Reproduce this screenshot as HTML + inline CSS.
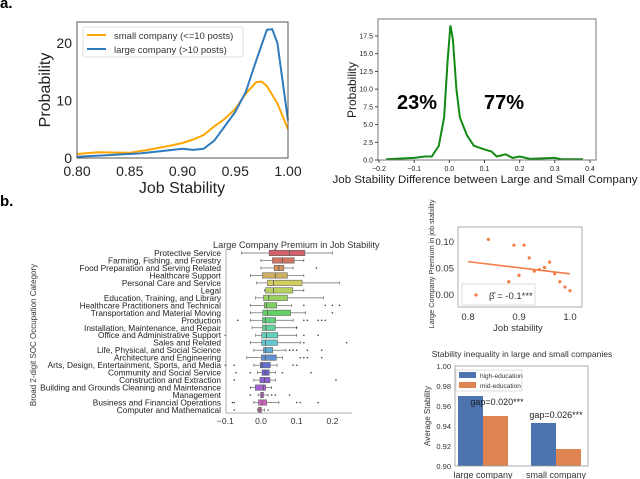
<!DOCTYPE html>
<html><head><meta charset="utf-8"><style>
body{margin:0;background:#fff;}
svg{display:block;font-family:"Liberation Sans",sans-serif;}
</style></head><body>
<svg id="fig" width="640" height="479" viewBox="0 0 640 479">
<text x="0" y="8" font-size="15" font-weight="bold">a.</text>
<text x="0" y="206" font-size="15" font-weight="bold">b.</text>
<g id="p1"></g>
<g id="p2"></g>
<g id="p3"></g>
<g id="p4"></g>
<g id="p5"></g>
</svg>
<script>
// ---- data ----
const smallX=[0.80,0.82,0.85,0.87,0.89,0.90,0.91,0.92,0.93,0.94,0.95,0.96,0.97,0.975,0.98,0.99,1.0];
const smallY=[0.7,1.0,0.9,1.5,2.2,2.6,3.2,4.0,5.5,6.8,8.5,11.2,13.2,13.3,12.5,9.5,5];
const largeX=[0.80,0.83,0.86,0.88,0.90,0.91,0.92,0.93,0.94,0.95,0.96,0.97,0.98,0.985,0.99,1.0];
const largeY=[0.2,0.5,0.8,1.2,1.6,1.4,1.6,3.0,5.5,8.0,11.5,17,22.3,22.4,20,6.5];
const p1Ticks=["0.80","0.85","0.90","0.95","1.00"];
const p1YTicks=["0","10","20"];
const diffX=[-0.18,-0.1,-0.07,-0.05,-0.03,-0.015,-0.005,0.003,0.01,0.02,0.03,0.05,0.07,0.1,0.12,0.135,0.16,0.18,0.2,0.23,0.3,0.32,0.38];
const diffY=[0.1,0.3,0.5,0.5,2,6,14,19,17,10,6,3.5,2,1.5,1.2,0.5,0.8,0.3,0.5,0.15,0.3,0.1,0.1];
const p2XTicks=["-0.2","-0.1","0.0","0.1","0.2","0.3","0.4"];
const p2YTicks=["0.0","2.5","5.0","7.5","10.0","12.5","15.0","17.5"];
const cats=["Protective Service","Farming, Fishing, and Forestry","Food Preparation and Serving Related","Healthcare Support","Personal Care and Service","Legal","Education, Training, and Library","Healthcare Practitioners and Technical","Transportation and Material Moving","Production","Installation, Maintenance, and Repair","Office and Administrative Support","Sales and Related","Life, Physical, and Social Science","Architecture and Engineering","Arts, Design, Entertainment, Sports, and Media","Community and Social Service","Construction and Extraction","Building and Grounds Cleaning and Maintenance","Management","Business and Financial Operations","Computer and Mathematical"];
const q1=[0.023,0.032,0.037,0.004,0.018,0.013,0.007,0.009,0.005,0.004,0.004,0.002,0.002,0.007,0.001,-0.002,0.003,-0.003,-0.016,-0.001,-0.007,-0.007];
const med=[0.08,0.06,0.05,0.04,0.035,0.035,0.022,0.016,0.018,0.012,0.014,0.015,0.013,0.013,0.012,0.003,0.012,0.01,0.007,0.003,0.003,-0.003];
const q3=[0.123,0.093,0.064,0.074,0.115,0.089,0.074,0.044,0.083,0.041,0.04,0.047,0.046,0.033,0.043,0.026,0.023,0.025,0.013,0.007,0.016,0.001];
const wlo=[-0.055,0,0,-0.03,-0.012,0.01,-0.015,-0.03,-0.03,-0.03,-0.025,-0.015,-0.03,-0.02,-0.04,-0.02,-0.01,-0.02,-0.03,-0.008,-0.02,-0.01];
const whi=[0.2,0.12,0.09,0.12,0.22,0.12,0.175,0.085,0.125,0.09,0.1,0.1,0.11,0.07,0.06,0.045,0.04,0.04,0.03,0.02,0.05,0.01];
const outl=[[],[],[0.155],[],[],[],[],[0.12,0.18,0.2,0.22],[0.2],[-0.065,0.12,0.13,0.16,0.17,0.18],[0.1],[-0.1,0.12,0.16],[0.12,0.24],[0.08,0.09,0.1,0.13,0.17],[0.11,0.12,0.13,0.17],[-0.1,-0.075,0.09,0.1],[-0.07,-0.03,0.06,0.14],[-0.075,0.21],[],[-0.03,0.03,0.04,0.08],[-0.08,-0.075,0.1,0.11,0.16],[-0.075,0.02]];
const p3Ticks=["-0.1","0.0","0.1","0.2"];
const scX=[0.84,0.89,0.91,0.92,0.88,0.90,0.93,0.94,0.95,0.96,0.97,0.98,0.99,1.0];
const scY=[0.105,0.094,0.094,0.07,0.025,0.037,0.045,0.048,0.052,0.062,0.04,0.025,0.015,0.008];
const fitX=[0.8,1.0];
const fitY=[0.063,0.04];
const p4XTicks=["0.8","0.9","1.0"];
const p4YTicks=["0.00","0.05","0.10"];
const barGroups=["large company","small company"];
const highEdu=[0.970,0.943];
const midEdu=[0.950,0.917];
const gapLabels=["gap=0.020***","gap=0.026***"];
const p5YTicks=["0.90","0.92","0.94","0.96","0.98","1.00"];

const NS="http://www.w3.org/2000/svg";
function mk(p,tag,a,txt){const e=document.createElementNS(NS,tag);for(const k in a)e.setAttribute(k,a[k]);if(txt!==undefined)e.textContent=txt;p.appendChild(e);return e;}
function lin(d0,d1,r0,r1){return v=>r0+(v-d0)/(d1-d0)*(r1-r0);}
function pathOf(xs,ys,sx,sy){return xs.map((x,i)=>(i?'L':'M')+sx(x).toFixed(1)+' '+sy(ys[i]).toFixed(1)).join(' ');}

// ---- panel 1 ----
(function(){
const g=document.getElementById('p1');
const sx=lin(0.8,1.0,77,288), sy=lin(0,23.65,158,22);
let e;
e=mk(g,'path',{d:pathOf(smallX,smallY,sx,sy),fill:'none',stroke:'#ffa500','stroke-width':2});

e=mk(g,'path',{d:pathOf(largeX,largeY,sx,sy),fill:'none',stroke:'#2f7bbd','stroke-width':2});

e=mk(g,'rect',{x:77,y:22,width:211,height:136,fill:'none',stroke:'#555','stroke-width':1});

p1Ticks.forEach(t=>{e=mk(g,'text',{x:sx(+t),y:176,'font-size':14,'text-anchor':'middle',fill:'#222'},t);
});
p1YTicks.forEach(t=>{e=mk(g,'text',{x:72,y:sy(+t)+5,'font-size':14,'text-anchor':'end',fill:'#222'},t);
});
e=mk(g,'text',{x:182,y:193,'font-size':16,'text-anchor':'middle',fill:'#222'},'Job Stability');

e=mk(g,'text',{x:0,y:0,'font-size':16,'text-anchor':'middle',fill:'#222',transform:'translate(50,90) rotate(-90)'},'Probability');

e=mk(g,'rect',{x:83,y:27,width:160,height:30,fill:'#fff',stroke:'#ddd',rx:2});

mk(g,'line',{x1:87,y1:35,x2:106,y2:35,stroke:'#ffa500','stroke-width':2});
e=mk(g,'text',{x:114,y:39,'font-size':9.5,fill:'#333'},'small company (<=10 posts)');

mk(g,'line',{x1:87,y1:49,x2:106,y2:49,stroke:'#2f7bbd','stroke-width':2});
e=mk(g,'text',{x:114,y:53,'font-size':9.5,fill:'#333'},'large company (>10 posts)');

})();

// ---- panel 2 ----
(function(){
const g=document.getElementById('p2');
const sx=lin(-0.2,0.4,379,590), sy=lin(0,17.5,160,36);
let e;
e=mk(g,'path',{d:pathOf(diffX,diffY,sx,sy),fill:'none',stroke:'#138a13','stroke-width':2});

e=mk(g,'rect',{x:378,y:19,width:218,height:141,fill:'none',stroke:'#777','stroke-width':1});

p2XTicks.forEach(t=>{const x=sx(+t);mk(g,'line',{x1:x,y1:160,x2:x,y2:163,stroke:'#444'});
e=mk(g,'text',{x:x,y:171,'font-size':7,'text-anchor':'middle',fill:'#222'},t.replace('-','\u2212'));
});
p2YTicks.forEach(t=>{const y=sy(+t);mk(g,'line',{x1:375,y1:y,x2:378,y2:y,stroke:'#444'});
e=mk(g,'text',{x:373,y:y+2.5,'font-size':7,'text-anchor':'end',fill:'#222'},t);
});
e=mk(g,'text',{x:485,y:183,'font-size':11.2,'text-anchor':'middle',fill:'#222',textLength:305,lengthAdjust:'spacingAndGlyphs'},'Job Stability Difference between Large and Small Company');

e=mk(g,'text',{x:0,y:0,'font-size':12,'text-anchor':'middle',fill:'#222',transform:'translate(356,90) rotate(-90)'},'Probability');

e=mk(g,'text',{x:417,y:109,'font-size':20,'font-weight':'bold','text-anchor':'middle'},'23%');

e=mk(g,'text',{x:504,y:109,'font-size':20,'font-weight':'bold','text-anchor':'middle'},'77%');

})();

// ---- panel 3 boxplot ----
(function(){
const g=document.getElementById('p3');
const sx=lin(0,0.1,261,296.7);
const y0=253, dy=(410-253)/21, bh=5.4;
let e;
e=mk(g,'text',{x:213,y:248,'font-size':9.2,fill:'#333'},'Large Company Premium in Job Stability');

cats.forEach((c,i)=>{
 const y=y0+i*dy;
 const hue=(355+i*330/21)%360;
 const col='hsl('+hue.toFixed(0)+',55%,60%)';
 e=mk(g,'text',{x:221,y:y+3,'font-size':8.3,'text-anchor':'end',fill:'#222'},c);
 
 mk(g,'line',{x1:sx(wlo[i]),y1:y,x2:sx(q1[i]),y2:y,stroke:'#666','stroke-width':0.7});
 mk(g,'line',{x1:sx(q3[i]),y1:y,x2:sx(whi[i]),y2:y,stroke:'#666','stroke-width':0.7});
 mk(g,'line',{x1:sx(wlo[i]),y1:y-1.5,x2:sx(wlo[i]),y2:y+1.5,stroke:'#666','stroke-width':0.7});
 mk(g,'line',{x1:sx(whi[i]),y1:y-1.5,x2:sx(whi[i]),y2:y+1.5,stroke:'#666','stroke-width':0.7});
 e=mk(g,'rect',{x:sx(q1[i]),y:y-bh/2,width:Math.max(1,sx(q3[i])-sx(q1[i])),height:bh,fill:col,stroke:'#666','stroke-width':0.6});
 
 mk(g,'line',{x1:sx(med[i]),y1:y-bh/2,x2:sx(med[i]),y2:y+bh/2,stroke:'#555','stroke-width':0.8});
 outl[i].forEach(o=>{e=mk(g,'circle',{cx:sx(o),cy:y,r:0.8,fill:'#444'});
 });
});
mk(g,'line',{x1:226,y1:248,x2:226,y2:413,stroke:'#999','stroke-width':0.8});
mk(g,'line',{x1:226,y1:413,x2:352,y2:413,stroke:'#999','stroke-width':0.8});
p3Ticks.forEach(t=>{e=mk(g,'text',{x:sx(+t),y:424,'font-size':8.5,'text-anchor':'middle',fill:'#333'},t.replace('-','\u2212'));
});
e=mk(g,'text',{x:0,y:0,'font-size':8,'text-anchor':'middle',fill:'#333',transform:'translate(36,335) rotate(-90)'},'Broad 2-digit SOC Occupation Category');

})();

// ---- panel 4 scatter ----
(function(){
const g=document.getElementById('p4');
const sx=lin(0.8,1.0,468,570), sy=lin(0,0.1,295,242);
let e;
e=mk(g,'rect',{x:458,y:227,width:124,height:80,fill:'none',stroke:'#999','stroke-width':0.8});

e=mk(g,'line',{x1:sx(fitX[0]),y1:sy(fitY[0]),x2:sx(fitX[1]),y2:sy(fitY[1]),stroke:'#f47c46','stroke-width':1.6});

scX.forEach((x,i)=>{e=mk(g,'circle',{cx:sx(x),cy:sy(scY[i]),r:1.6,fill:'#f47c46'});
});
e=mk(g,'rect',{x:462,y:284,width:73,height:21,fill:'#fff','fill-opacity':0.8,stroke:'#ddd'});

mk(g,'circle',{cx:476,cy:295,r:1.6,fill:'#f47c46'});
e=mk(g,'text',{x:489,y:299,'font-size':9.5,fill:'#333'},'\u03B2\u0302 = -0.1***');

p4XTicks.forEach(t=>{e=mk(g,'text',{x:sx(+t),y:320,'font-size':9.5,'text-anchor':'middle',fill:'#333'},t);
});
p4YTicks.forEach(t=>{e=mk(g,'text',{x:454,y:sy(+t)+3,'font-size':9.5,'text-anchor':'end',fill:'#333'},t);
});
e=mk(g,'text',{x:518,y:331,'font-size':9.5,'text-anchor':'middle',fill:'#333'},'Job stability');

e=mk(g,'text',{x:0,y:0,'font-size':7.3,'text-anchor':'middle',fill:'#333',transform:'translate(434,264) rotate(-90)'},'Large Company Premium in job stability');

})();

// ---- panel 5 bars ----
(function(){
const g=document.getElementById('p5');
const sy=lin(0.9,1.0,466,366);
const cx=[483,556], bw=25;
let e;
e=mk(g,'text',{x:522,y:357,'font-size':8.5,'text-anchor':'middle',fill:'#333'},'Stability inequality in large and small companies');

barGroups.forEach((b,i)=>{
 e=mk(g,'rect',{x:cx[i]-bw,y:sy(highEdu[i]),width:bw,height:466-sy(highEdu[i]),fill:'#4c72b0'});
 
 e=mk(g,'rect',{x:cx[i],y:sy(midEdu[i]),width:bw,height:466-sy(midEdu[i]),fill:'#dd8452'});
 
 e=mk(g,'text',{x:cx[i],y:478,'font-size':9,'text-anchor':'middle',fill:'#333'},b);
 
 e=mk(g,'text',{x:cx[i]+ (i?0:14),y:sy(highEdu[i])+(i?-5:9),'font-size':9,'text-anchor':'middle',fill:'#222'},gapLabels[i]);
 
});
e=mk(g,'rect',{x:455,y:366,width:133,height:100,fill:'none',stroke:'#999','stroke-width':0.8});

p5YTicks.forEach(t=>{e=mk(g,'text',{x:451,y:sy(+t)+3,'font-size':7.5,'text-anchor':'end',fill:'#333'},t);
});
e=mk(g,'text',{x:0,y:0,'font-size':8,'text-anchor':'middle',fill:'#333',transform:'translate(430,416) rotate(-90)'},'Average Stability');

e=mk(g,'rect',{x:456,y:370,width:66,height:21,fill:'#fff',stroke:'#ddd'});

mk(g,'rect',{x:459,y:372,width:17,height:6,fill:'#4c72b0'});
e=mk(g,'text',{x:480,y:378,'font-size':6.5,fill:'#333'},'high-education');

mk(g,'rect',{x:459,y:382,width:17,height:6,fill:'#dd8452'});
e=mk(g,'text',{x:480,y:388,'font-size':6.5,fill:'#333'},'mid-education');

})();
</script>
</body></html>
